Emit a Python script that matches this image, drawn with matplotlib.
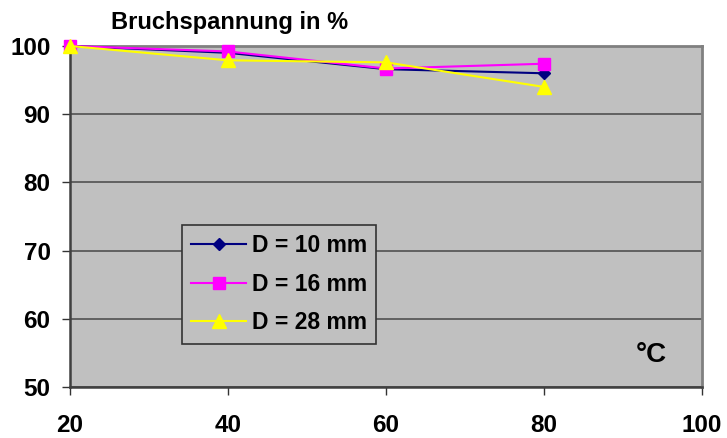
import matplotlib
matplotlib.use("Agg")
import matplotlib.pyplot as plt

temps = [20, 40, 60, 80]
d10 = [100.0, 99.0, 96.6, 96.0]
d16 = [100.0, 99.2, 96.7, 97.4]
d28 = [100.0, 97.9, 97.6, 94.0]
labels = ["D = 10 mm", "D = 16 mm", "D = 28 mm"]
x_ticks = [20, 40, 60, 80, 100]
y_ticks = [50, 60, 70, 80, 90, 100]

plt.rcParams['font.family'] = ['Liberation Sans', 'DejaVu Sans']

W, H = 727, 438
L, R, T, B = 70, 702, 46, 387
fig = plt.figure(figsize=(W / 100, H / 100), dpi=100)
ax = fig.add_axes([L / W, 1 - B / H, (R - L) / W, (B - T) / H])
ax.set_facecolor('#C0C0C0')

ax.plot(temps, d10, color='#000080', marker='D', markersize=6.5, lw=1.5,
        label=labels[0], zorder=3, clip_on=False)
ax.plot(temps, d16, color='#FF00FF', marker='s', markersize=8.6, lw=1.5,
        label=labels[1], zorder=4, clip_on=False)
ax.plot(temps, d28, color='#FFFF00', marker='^', markersize=9.8, lw=1.5,
        label=labels[2], zorder=5, clip_on=False)

ax.set_xlim(20, 100)
ax.set_ylim(50, 100)
ax.set_xticks(x_ticks)
ax.set_yticks(y_ticks)
ax.yaxis.grid(True, color='#5A5A5A', lw=1.3)
ax.set_axisbelow(True)
for s in ['top', 'right']:
    ax.spines[s].set_color('#808080')
    ax.spines[s].set_linewidth(2)
for s in ['left', 'bottom']:
    ax.spines[s].set_color('#404040')
    ax.spines[s].set_linewidth(1.8)
ax.tick_params(axis='both', direction='out', width=1, labelsize=17.5, colors='#333333',
               labelcolor='black')
ax.tick_params(axis='x', length=5.5, pad=14)
ax.tick_params(axis='y', length=6, pad=8)
for t in ax.get_xticklabels() + ax.get_yticklabels():
    t.set_fontweight('bold')

fig.text(111 / W, 1 - 29 / H, "Bruchspannung in %", fontsize=17,
         fontweight='bold', va='baseline', ha='left')
fig.text(651 / W, 1 - 355 / H, "°C", fontsize=20, fontweight='bold',
         ha='center', va='center')

leg = ax.legend(loc='upper left',
                bbox_to_anchor=((182 - L) / (R - L), (B - 225) / (B - T)),
                borderaxespad=0, frameon=True, fancybox=False,
                handlelength=2.4, labelspacing=0.68, borderpad=0.4,
                handletextpad=0.25,
                prop={'weight': 'bold', 'size': 16.5})
leg.get_frame().set_facecolor('#C0C0C0')
leg.get_frame().set_edgecolor('#333333')
leg.get_frame().set_linewidth(1.2)
leg.get_frame().set_alpha(1.0)

fig.savefig("out.png", dpi=100, facecolor='white')
